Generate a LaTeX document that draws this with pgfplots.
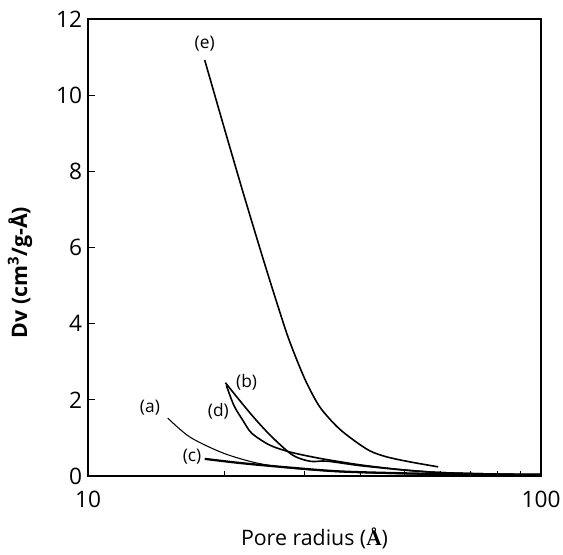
\documentclass[border=0pt]{standalone}
\usepackage{fontspec}
\setmainfont{Open Sans}
\newfontfamily\serifA{Liberation Serif}
\usepackage{pgfplots}
\pgfplotsset{compat=1.18}
\begin{document}
\begin{tikzpicture}
\begin{axis}[
  at={(0,0)}, anchor=south west,
  scale only axis, width=339.75pt, height=342.75pt,
  xmode=log, xmin=10, xmax=100, ymin=0, ymax=12,
  xtick={10,100}, xticklabels={10,100},
  extra x ticks={20,30,40,50,60,70,80,90},
  extra x tick labels={},
  extra x tick style={major tick length=3.5pt},
  ytick={0,2,4,6,8,10,12},
  tick pos=left, tick align=inside,
  major tick length=5pt,
  axis line style={line width=1pt}, every tick/.style={black, line width=0.6pt},
  /pgf/number format/assume math mode=true,
  tick label style={font=\fontsize{17}{19}\selectfont},
  xticklabel style={yshift=-8pt},
  yticklabel style={xshift=-1pt},
  log ticks with fixed point,
  xlabel={Pore radius ({\serifA\bfseries Å})},
  ylabel={\bfseries Dv (cm\textsuperscript{3}/g-Å)},
  label style={font=\fontsize{16}{18}\selectfont},
  xlabel style={at={([yshift=-46.5pt]axis description cs:0.5,0)}, anchor=center},
  ylabel style={at={([xshift=-51pt]axis description cs:0,0.445)}, anchor=center},
  clip=false,
]
% (e)
\addplot[black, line width=1.2pt, smooth, tension=0.5] coordinates {
(18.1,10.92)(20.04,9.09)(22.18,7.30)(24.40,5.67)(26.0,4.62)(27.53,3.71)(28.9,3.05)(30.4,2.44)(32.5,1.81)(35.5,1.29)(38.5,0.95)(41.9,0.66)(45.7,0.50)(51.4,0.37)(59.3,0.24)};
% (b)
\addplot[black, line width=1.2pt, smooth, tension=0.5] coordinates {
(20.1,2.45)(22.8,1.65)(25.2,1.08)(27.9,0.60)(29.5,0.45)(31.3,0.38)(33.7,0.39)(40,0.27)(49.6,0.16)(60,0.09)(80,0.05)(100,0.04)};
% (d)
\addplot[black, line width=1.2pt, smooth, tension=0.5] coordinates {
(20.2,2.38)(21,1.85)(22,1.45)(23,1.12)(25.2,0.81)(27.9,0.63)(31.3,0.50)(33.7,0.43)(40,0.29)(49.6,0.16)(60,0.09)(80,0.05)(100,0.04)};
% (a)
\addplot[black, line width=0.8pt, smooth, tension=0.5] coordinates {
(15.0,1.52)(16.8,1.02)(19.9,0.60)(23.6,0.34)(27.9,0.21)(35,0.12)(45,0.07)(60,0.04)(80,0.03)(100,0.02)};
% (c)
\addplot[black, line width=1.7pt, smooth, tension=0.5] coordinates {
(18.1,0.45)(21.7,0.34)(27.9,0.22)(36,0.12)(50,0.07)(70,0.04)(100,0.03)};
\node[font=\fontsize{13}{15}\selectfont] at (axis cs:18.1,11.34) {(e)};
\node[font=\fontsize{13}{15}\selectfont] at (axis cs:13.7,1.79) {(a)};
\node[font=\fontsize{13}{15}\selectfont] at (axis cs:22.4,2.47) {(b)};
\node[font=\fontsize{13}{15}\selectfont] at (axis cs:19.4,1.71) {(d)};
\node[font=\fontsize{13}{15}\selectfont] at (axis cs:16.97,0.50) {(c)};
\end{axis}
\pgfresetboundingbox
\path[use as bounding box] (-66pt,-59.25pt) rectangle (356.25pt,357pt);
\end{tikzpicture}
\end{document}
